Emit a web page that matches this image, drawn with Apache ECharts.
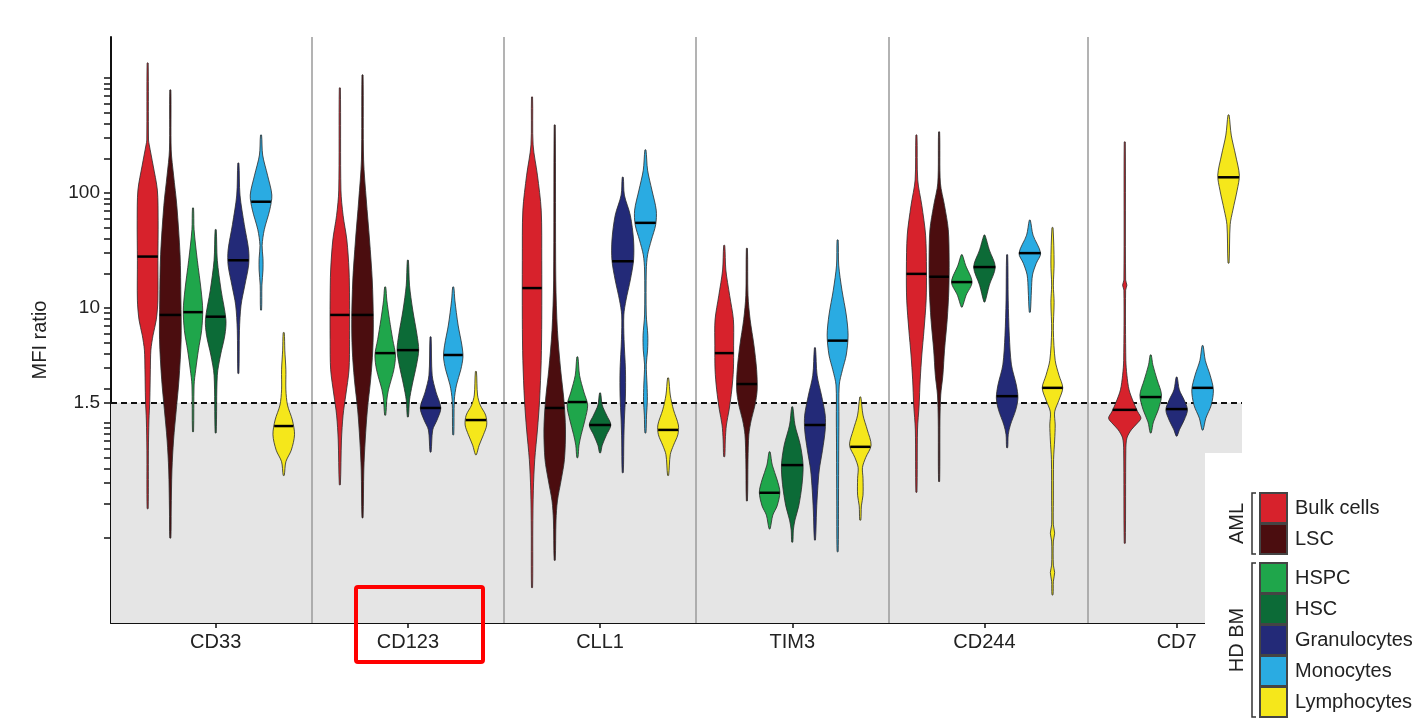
<!DOCTYPE html>
<html>
<head>
<meta charset="utf-8">
<script src="https://cdn.jsdelivr.net/npm/echarts@6/dist/echarts.min.js"></script>
<style>
  html, body { margin: 0; background: #fff; }
  #chart { width: 1425px; height: 726px; }
</style>
</head>
<body>
<div id="chart"></div>
<script>
// markers on the x axis and the cell populations drawn for each of them
const markers = ['CD33', 'CD123', 'CLL1', 'TIM3', 'CD244', 'CD7'];
const cellTypes = ['Bulk cells', 'LSC', 'HSPC', 'HSC', 'Granulocytes', 'Monocytes', 'Lymphocytes'];
const cellColors = ['#d7222c', '#4b0d0f', '#1fa64b', '#0c6b37', '#232a78', '#2aabe2', '#f5e71b'];

// y axis (MFI ratio, log scale)
const yLabelValues = [1.5, 10, 100];
const yTickValues = [0.1, 0.2, 0.3, 0.4, 0.5, 0.6, 0.7, 0.8, 0.9, 1, 1.5, 2, 3, 4, 5, 6, 7, 8, 9,
  10, 20, 30, 40, 50, 60, 70, 80, 90, 100, 200, 300, 400, 500, 600, 700, 800, 900, 1000];
const threshold = 1.5;

// violin outlines: [MFI ratio, relative density] from top to bottom, one per cell type
const cd33Shapes = [
  [[1350,0.5],[289,0.8],[262,1.5],[175,5],[106,9],[58,9.7],[26,9.5],[11.7,9.5],[7.9,8],[5.8,5],[4.3,3],[2.9,2.5],[1.58,2],[1.06,1.2],[0.58,0.7],[0.18,0.5]],
  [[787,0.5],[237,0.8],[143,3],[78,6],[29,9],[11.7,9.8],[5.3,10],[2.37,8],[1.3,5.5],[0.71,3],[0.39,1.5],[0.175,0.8],[0.1,0.5]],
  [[74,0.5],[48,1],[26,4],[14.3,7.5],[9.6,9],[6.4,8],[4.3,5],[2.9,2.5],[2.14,1],[0.84,0.5]],
  [[48,0.5],[26,1.5],[14.3,5],[7.9,9.5],[5.8,8.5],[3.9,4.5],[2.6,1.5],[0.82,0.5]],
  [[182,0.5],[96,1.5],[53,5.5],[32,9.5],[23.6,9.5],[15.8,6],[10.6,2.5],[6.4,1],[2.7,0.5]],
  [[319,0.5],[214,1.5],[143,6],[96,10],[71,8],[48,3],[35,1],[27,1.8],[21.4,1.8],[15.8,0.8],[9.6,0.5]],
  [[6.1,0.5],[4.3,1],[2.9,2],[1.94,2],[1.43,3.5],[1.06,8],[0.79,10],[0.58,7],[0.46,2],[0.35,0.5]]
];
const cd33Medians = [28, 8.7, 9.2, 8.4, 26, 84, 0.94];

const cd123Shapes = [
  [[820,0.5],[106,1],[64,3],[39,6.5],[21.4,8.5],[11.7,9],[5.3,9],[2.9,8.5],[1.75,5.5],[1.17,3],[0.71,1.5],[0.29,0.5]],
  [[1063,0.5],[194,1],[87,3.5],[39,6.5],[17.5,9],[7.9,10],[4.3,9.5],[2.37,7.5],[1.3,4.5],[0.71,2.5],[0.39,1.2],[0.15,0.5]],
  [[15.2,0.5],[11.7,1.5],[7.9,4],[5.3,7],[3.9,9.5],[2.9,8],[1.94,3],[1.58,1.5],[1.17,0.5]],
  [[26,0.5],[15.8,1.5],[9.6,4.5],[5.8,8.5],[4.3,10],[3.2,8],[2.14,4],[1.58,1.5],[1.13,0.5]],
  [[5.6,0.5],[2.6,1.5],[1.86,5],[1.35,9.5],[1.06,6],[0.87,2],[0.56,0.5]],
  [[15.2,0.5],[11.7,1.5],[7.1,4.5],[4.75,8],[3.75,9],[2.9,7],[2.14,3],[1.58,1],[0.79,0.5]],
  [[2.8,0.5],[1.75,1.5],[1.43,4],[1.17,9],[0.96,10],[0.79,7],[0.64,3],[0.53,0.5]]
];
const cd123Medians = [8.7, 8.7, 4.05, 4.3, 1.35, 3.9, 1.06];

const cll1Shapes = [
  [[684,0.5],[262,1],[143,5],[71,8.5],[26,9],[7.9,9],[3.5,8.5],[1.58,7],[0.87,5],[0.48,2.5],[0.26,1.2],[0.117,0.7],[0.037,0.5]],
  [[390,0.5],[17.5,1],[6.4,2.5],[2.9,5.5],[1.58,8.5],[0.87,10],[0.48,9],[0.32,6],[0.21,2.5],[0.143,1.2],[0.064,0.5]],
  [[3.75,0.5],[2.6,2],[1.86,6],[1.43,9.5],[1.06,7],[0.79,3.5],[0.64,1.5],[0.5,0.5]],
  [[1.82,0.5],[1.43,2],[1.17,6],[0.96,10],[0.79,6],[0.64,2],[0.55,0.5]],
  [[137,0.5],[96,1.5],[64,7],[39,10],[26,10],[17.5,7],[11.7,3],[8.7,1],[5.3,1.2],[2.9,2.5],[1.75,2.5],[1.06,1.5],[0.71,1],[0.37,0.5]],
  [[237,0.5],[158,2],[106,6],[71,10],[53,9.5],[39,5.5],[29,2],[21.4,0.8],[8.7,0.8],[5.8,2.2],[4.3,2],[3.2,0.8],[2.14,1.5],[1.58,1.8],[1.17,1],[0.82,0.5]],
  [[2.46,0.5],[1.75,2],[1.3,5],[0.96,9.5],[0.79,9],[0.64,5],[0.53,2],[0.35,0.5]]
];
const cll1Medians = [14.9, 1.35, 1.52, 0.96, 25.5, 55, 0.87];

const tim3Shapes = [
  [[35,0.5],[21.4,1.5],[12.9,5],[7.9,8.5],[4.75,8.7],[2.9,8.5],[1.94,7],[1.3,4.5],[0.96,2],[0.71,1],[0.51,0.5]],
  [[33,0.5],[12.9,1],[7.9,3],[4.75,6.5],[2.9,9],[1.94,9.5],[1.43,7.5],[1.06,4],[0.79,1.8],[0.48,1],[0.21,0.5]],
  [[0.56,0.5],[0.43,2.5],[0.32,7],[0.25,9.5],[0.19,7],[0.158,3],[0.12,0.5]],
  [[1.38,0.5],[0.96,2.5],[0.64,7.5],[0.43,10],[0.29,9],[0.19,6],[0.143,2.5],[0.117,1],[0.092,0.5]],
  [[4.5,0.5],[2.6,2],[1.75,6],[1.17,9.5],[0.87,9.5],[0.58,7],[0.39,4],[0.26,2.5],[0.175,1.5],[0.096,0.5]],
  [[39,0.5],[23.6,1],[14.3,4],[8.7,8],[5.8,9.7],[3.9,8],[2.9,4.5],[2.14,1.5],[1.06,1.2],[0.58,1],[0.21,0.8],[0.076,0.5]],
  [[1.68,0.5],[1.17,2.5],[0.87,6.5],[0.64,10],[0.5,5],[0.41,2],[0.33,2.5],[0.235,2.5],[0.19,1],[0.143,0.5]]
];
const tim3Medians = [4.05, 2.18, 0.247, 0.43, 0.96, 5.2, 0.62];

const cd244Shapes = [
  [[319,0.5],[130,1.2],[78,5],[43,8.5],[21.4,9.3],[11.7,9],[6.4,7],[3.9,5],[2.37,3.5],[1.43,2.5],[0.87,1],[0.25,0.5]],
  [[340,0.5],[122,1.2],[78,5],[48,8.5],[26,9.3],[14.3,9],[7.9,7.5],[4.3,5],[2.6,3.5],[1.75,1.5],[1.06,0.8],[0.31,0.5]],
  [[29,0.5],[23.6,3.5],[16.8,9.5],[12.9,4],[10.2,0.5]],
  [[43,0.5],[32,4.5],[22.7,10],[15.8,4.5],[11.3,0.5]],
  [[29,0.5],[11.7,1],[5.8,2],[3.2,4],[2.14,8.5],[1.65,10],[1.3,8],[0.96,3],[0.79,1],[0.61,0.5]],
  [[58,0.5],[43,3],[30,10],[24.5,6],[19.4,2.5],[14.3,1.5],[9.2,0.5]],
  [[50,0.5],[24.6,1.5],[15.8,0.8],[11.2,1.5],[6.4,0.8],[3.5,2.5],[2.6,6],[2.02,9.5],[1.58,6],[1.25,2],[0.96,2.5],[0.71,2],[0.48,1],[0.21,0.8],[0.13,0.8],[0.11,2],[0.094,0.8],[0.058,0.8],[0.05,2],[0.042,0.8],[0.032,0.5]]
];
const cd244Medians = [19.8, 18.7, 16.8, 22.7, 1.71, 30, 2.02];

const cd7Shapes = [
  [[278,0.5],[17.5,0.8],[15.8,2],[14.3,0.8],[3.5,1],[2.6,2],[1.94,4],[1.52,8],[1.25,12],[1.1,15],[0.98,11],[0.87,6],[0.74,2],[0.58,1],[0.09,0.5]],
  null,
  [[3.9,0.5],[3.2,2],[2.37,6],[1.75,10],[1.3,7],[1.02,2.5],[0.82,0.5]],
  null,
  [[2.5,0.5],[1.94,2.5],[1.58,7],[1.3,10],[1.06,7],[0.87,2.5],[0.77,0.5]],
  [[4.7,0.5],[3.5,2.5],[2.6,7],[1.94,10],[1.43,8],[1.1,3],[0.87,0.5]],
  [[477,0.5],[319,2.5],[214,6.5],[143,10],[106,8],[71,4],[53,1.5],[24.6,0.5]]
];
const cd7Medians = [1.3, null, 1.68, null, 1.32, 2.02, 137];

const allShapes = [cd33Shapes, cd123Shapes, cll1Shapes, tim3Shapes, cd244Shapes, cd7Shapes];
const allMedians = [cd33Medians, cd123Medians, cll1Medians, tim3Medians, cd244Medians, cd7Medians];

// layout
const slotStep = [0.118, 0.118, 0.118, 0.118, 0.118, 0.135];
const separators = [0.5, 1.5, 2.5, 3.5, 4.54];
const font = 'Arial, "Liberation Sans", sans-serif';
const lg = Math.log10;

function densityAt(shape, v) {
  const t = lg(v);
  for (let i = 0; i < shape.length - 1; i++) {
    const a = lg(shape[i][0]), b = lg(shape[i + 1][0]);
    if (t <= a && t >= b) {
      const f = (a - t) / (a - b);
      return shape[i][1] + f * (shape[i + 1][1] - shape[i][1]);
    }
  }
  return 0.5;
}

function violinRenderer(cellIdx) {
  return function (params, api) {
    const m = api.value(0);
    const shape = allShapes[m][cellIdx];
    if (!shape) return;
    const present = allShapes[m].map((s, i) => s ? i : -1).filter(i => i >= 0);
    const k = present.indexOf(cellIdx);
    const cx = m + (k - (present.length - 1) / 2) * slotStep[m];
    // one density unit is roughly one pixel at this size
    const scale = api.size([1, 0])[0] / 178;
    const right = [], left = [];
    shape.forEach(function (d) {
      const p = api.coord([cx, lg(d[0])]);
      right.push([p[0] + d[1] * scale, p[1]]);
      left.push([p[0] - d[1] * scale, p[1]]);
    });
    const med = allMedians[m][cellIdx];
    const mp = api.coord([cx, lg(med)]);
    const hw = densityAt(shape, med) * scale;
    return {
      type: 'group',
      children: [{
        type: 'polygon',
        shape: { points: right.concat(left.reverse()), smooth: 0.3 },
        style: { fill: cellColors[cellIdx], stroke: '#2b2b2b', lineWidth: 0.8 }
      }, {
        type: 'line',
        shape: { x1: mp[0] - hw, y1: mp[1], x2: mp[0] + hw, y2: mp[1] },
        style: { stroke: '#000', lineWidth: 2.5 }
      }]
    };
  };
}

const yMin = lg(0.0182), yMax = lg(2275);

const series = cellTypes.map(function (name, ci) {
  return {
    name: name,
    type: 'custom',
    z: 5,
    renderItem: violinRenderer(ci),
    data: markers.map((mk, mi) => [mi, allMedians[mi][ci]]).filter(d => d[1] != null)
  };
});

// background shading and group separators
series.push({
  type: 'line',
  z: 1,
  data: [],
  markArea: {
    silent: true,
    itemStyle: { color: '#e5e5e5' },
    data: [[{ yAxis: yMin }, { yAxis: lg(threshold) }]]
  },
  markLine: {
    silent: true,
    symbol: 'none',
    label: { show: false },
    lineStyle: { color: '#9a9a9a', width: 1.5, type: 'solid' },
    data: separators.map(x => ({ xAxis: x }))
  }
});
// dashed threshold line
series.push({
  type: 'line',
  z: 10,
  data: [],
  markLine: {
    silent: true,
    symbol: 'none',
    label: { show: false },
    lineStyle: { color: '#111', width: 2, type: [6, 4] },
    data: [{ yAxis: lg(threshold) }]
  }
});

// legend drawn by hand, with brackets for the two groups
const legendRowY = cellTypes.map((c, i) => 493 + i * 31 + (i >= 2 ? 8 : 0));
const graphics = [{
  type: 'rect', z: 100,
  shape: { x: 1205, y: 453, width: 220, height: 273 },
  style: { fill: '#fff' }
}, {
  type: 'text', z: 100, x: 40, y: 340, rotation: Math.PI / 2,
  style: { text: 'MFI ratio', fill: '#222', font: '20px ' + font, textAlign: 'center', textVerticalAlign: 'middle' }
}];
cellTypes.forEach(function (name, i) {
  graphics.push({
    type: 'rect', z: 101,
    shape: { x: 1260, y: legendRowY[i], width: 27, height: 30 },
    style: { fill: cellColors[i], stroke: '#444', lineWidth: 2 }
  });
  graphics.push({
    type: 'text', z: 101, x: 1295, y: legendRowY[i] + 15,
    style: { text: name, fill: '#222', font: '20px ' + font, textVerticalAlign: 'middle' }
  });
});
[['AML', 0, 1], ['HD BM', 2, 6]].forEach(function (g) {
  const y1 = legendRowY[g[1]], y2 = legendRowY[g[2]] + 30;
  graphics.push({
    type: 'polyline', z: 101,
    shape: { points: [[1256, y1], [1252, y1], [1252, y2], [1256, y2]] },
    style: { stroke: '#333', lineWidth: 1.5, fill: null }
  });
  graphics.push({
    type: 'text', z: 101, x: 1237, y: (y1 + y2) / 2, rotation: Math.PI / 2,
    style: { text: g[0], fill: '#222', font: '20px ' + font, textAlign: 'center', textVerticalAlign: 'middle' }
  });
});
// red annotation box around the CD123 label
graphics.push({
  type: 'rect', z: 102,
  shape: { x: 356, y: 587, width: 127, height: 75, r: 2 },
  style: { fill: null, stroke: '#ff0000', lineWidth: 4 }
});

const chart = echarts.init(document.getElementById('chart'));
chart.setOption({
  animation: false,
  grid: { left: 111, right: 183, top: 37, bottom: 103 },
  xAxis: {
    type: 'value',
    min: -0.5447,
    max: 5.34,
    splitLine: { show: false },
    axisLine: { onZero: false, lineStyle: { color: '#111', width: 2 } },
    axisTick: { customValues: [0, 1, 2, 3, 4, 5], length: 5, lineStyle: { color: '#111', width: 1.5 } },
    axisLabel: {
      customValues: [0, 1, 2, 3, 4, 5],
      formatter: v => markers[Math.round(v)],
      color: '#222', fontSize: 20, fontFamily: font, margin: 9
    }
  },
  yAxis: {
    type: 'value',
    min: yMin,
    max: yMax,
    splitLine: { show: false },
    axisLine: { onZero: false, lineStyle: { color: '#111', width: 2 } },
    axisTick: { customValues: yTickValues.map(lg), length: 7, lineStyle: { color: '#111', width: 1.5 } },
    axisLabel: {
      customValues: yLabelValues.map(lg),
      formatter: function (v) {
        const hit = yLabelValues.find(l => Math.abs(lg(l) - v) < 1e-6);
        return hit != null ? String(hit) : '';
      },
      color: '#222', fontSize: 19, fontFamily: font, margin: 11
    }
  },
  series: series,
  graphic: graphics
});
</script>
</body>
</html>
